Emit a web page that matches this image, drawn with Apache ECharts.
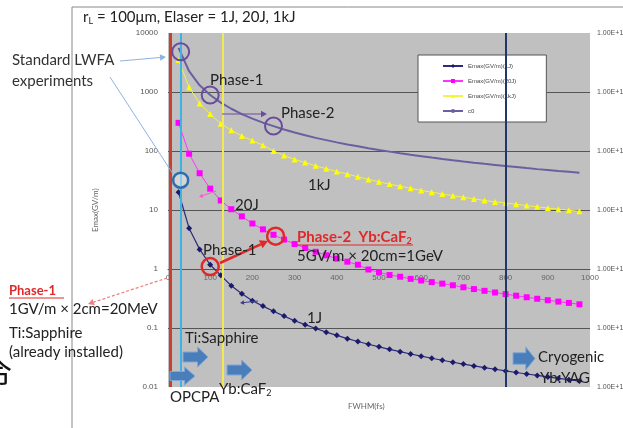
<!DOCTYPE html>
<html>
<head>
<meta charset="utf-8">
<script src="https://cdn.jsdelivr.net/npm/echarts@6/dist/echarts.min.js"></script>
<style>
  html, body { margin: 0; padding: 0; background: #fff; }
  #chart { width: 623px; height: 428px; }
</style>
</head>
<body>
<div id="chart"></div>
<script>
// pulse length (fs)
const fwhm = [25, 50, 75, 100, 125, 150, 175, 200, 225, 250, 275, 300, 325, 350, 375, 400, 425, 450, 475, 500,
  525, 550, 575, 600, 625, 650, 675, 700, 725, 750, 775, 800, 825, 850, 875, 900, 925, 950, 975];
// Emax (GV/m)
const emax1J = [20, 4.9, 2.15, 1.18, 0.78, 0.52, 0.38, 0.29, 0.235, 0.192, 0.159, 0.133, 0.114, 0.098, 0.085, 0.075,
  0.066, 0.059, 0.053, 0.048, 0.0435, 0.0397, 0.0363, 0.0333, 0.0307, 0.0284, 0.0263, 0.0245, 0.0228, 0.0213,
  0.02, 0.0187, 0.0176, 0.0166, 0.0157, 0.0148, 0.014, 0.0133, 0.0126];
const emax20J = [300, 90, 42, 23, 14.5, 10.3, 7.8, 5.9, 4.7, 3.8, 3.15, 2.65, 2.27, 1.96, 1.71, 1.5, 1.33, 1.18,
  0.98, 0.88, 0.79, 0.74, 0.68, 0.64, 0.6, 0.565, 0.53, 0.49, 0.457, 0.427, 0.4, 0.375, 0.353, 0.332, 0.313,
  0.296, 0.28, 0.266, 0.252];
const emax1kJ = [3500, 1200, 640, 425, 290, 225, 180, 150, 125, 100, 84, 72, 64, 56, 50, 45, 40.5, 36.5, 33, 30,
  27.5, 25.3, 23.3, 21.5, 20, 18.7, 17.5, 16.4, 15.4, 14.5, 13.7, 13.2, 12.5, 11.9, 11.3, 10.8, 10.3, 9.9, 9.5];
const c0 = [5600, 2250, 1300, 890, 660, 520, 422, 353, 302, 264, 231, 206, 185, 167, 153, 140, 129, 120, 111, 104,
  97.6, 91.7, 86.4, 81.7, 77.3, 73.4, 69.8, 66.5, 63.4, 60.6, 58.1, 55.6, 53.4, 51.3, 49.3, 47.5, 45.8, 44.3, 42.8];
const seriesNames = ['Emax(GV/m)(1J)', 'Emax(GV/m)(20J)', 'Emax(GV/m)(1kJ)', 'c0'];
// vertical markers (fs)
const markerLines = [5, 30, 130, 800];

const FONT = 'Lato, "Open Sans", sans-serif';
const chart = echarts.init(document.getElementById('chart'));

function pairs(vals) {
  return fwhm.map((t, i) => [t, vals[i]]);
}

chart.setOption({
  animation: false,
  backgroundColor: '#fff',
  grid: { left: 168, right: 33, top: 33, bottom: 41, show: true, backgroundColor: '#C0C0C0', borderWidth: 0,
    containLabel: false, outerBoundsMode: 'none' },
  legend: {
    data: seriesNames,
    orient: 'vertical',
    left: 418, top: 55,
    itemWidth: 20, itemHeight: 5, itemGap: 9,
    padding: [8, 30, 8, 24],
    backgroundColor: '#fff', borderColor: '#555', borderWidth: 1,
    textStyle: { fontSize: 6, color: '#444' },
    z: 1
  },
  xAxis: {
    type: 'value', min: 0, max: 1000, interval: 100,
    offset: -118,
    axisLine: { show: true, lineStyle: { color: '#555' } },
    axisTick: { show: false },
    axisLabel: { color: '#666', fontSize: 8, margin: 5, formatter: v => String(v) },
    splitLine: { show: false }
  },
  yAxis: [{
    type: 'log', min: 0.01, max: 10000, logBase: 10,
    axisLine: { show: false }, axisTick: { show: false },
    axisLabel: { color: '#555', fontSize: 8, margin: 10, formatter: v => String(+v.toPrecision(6)) },
    splitLine: { show: true, showMinLine: false, showMaxLine: false, lineStyle: { color: '#555', width: 1 } }
  }, {
    type: 'log', min: 1e10, max: 1e16, logBase: 10, position: 'right',
    axisLine: { show: false }, axisTick: { show: false }, splitLine: { show: false },
    axisLabel: { color: '#555', fontSize: 7, margin: 7, formatter: v => '1.00E+' + Math.round(Math.log10(v)) }
  }],
  series: [{
    name: seriesNames[0], type: 'line', data: pairs(emax1J), showAllSymbol: true,
    symbol: 'diamond', symbolSize: 6,
    itemStyle: { color: '#1B1B6B' }, lineStyle: { color: '#2B2B80', width: 1.2 }
  }, {
    name: seriesNames[1], type: 'line', data: pairs(emax20J), showAllSymbol: true,
    symbol: 'rect', symbolSize: 6,
    itemStyle: { color: '#FF00FF' }, lineStyle: { color: '#FF33FF', width: 1 }
  }, {
    name: seriesNames[2], type: 'line', data: pairs(emax1kJ), showAllSymbol: true,
    symbol: 'triangle', symbolSize: 6,
    itemStyle: { color: '#FFFF00' }, lineStyle: { color: '#F2F24A', width: 1 }
  }, {
    name: seriesNames[3], type: 'line', data: pairs(c0), symbol: 'none',
    itemStyle: { color: '#6A5FA0' }, lineStyle: { color: '#6A5FA0', width: 2 }
  }, {
    type: 'line', data: [], z: 1,
    markLine: {
      silent: true, symbol: 'none', label: { show: false },
      data: [
        { xAxis: markerLines[0], lineStyle: { color: '#C84030', width: 3, type: 'solid' } },
        { xAxis: markerLines[1], lineStyle: { color: '#3AB4E6', width: 2, type: 'solid' } },
        { xAxis: markerLines[2], lineStyle: { color: '#F2EA50', width: 2, type: 'solid' } },
        { xAxis: markerLines[3], lineStyle: { color: '#1F3868', width: 2, type: 'solid' } }
      ]
    }
  }]
});

function px(x, y) {
  return chart.convertToPixel({ xAxisIndex: 0, yAxisIndex: 0 }, [x, y]);
}
function txt(x, y, text, size, color, weight) {
  return { type: 'text', x: x, y: y, z: 100,
    style: { text: text, fill: color || '#222', font: (weight || 'normal') + ' ' + size + 'px ' + FONT, verticalAlign: 'top' } };
}
function subTxt(x, y, text, size, color, weight) {
  // text with {s|..} subscripts
  const f = (weight || 'normal') + ' ';
  return { type: 'text', x: x, y: y, z: 100,
    style: { text: text, verticalAlign: 'top',
      rich: {
        a: { font: f + size + 'px ' + FONT, fill: color, lineHeight: size + 3 },
        s: { font: f + Math.round(size * 0.6) + 'px ' + FONT, fill: color, lineHeight: Math.round(size * 0.7), verticalAlign: 'bottom' }
      } } };
}
function ring(c, r, color, w, fill) {
  return { type: 'circle', z: 100, shape: { cx: c[0], cy: c[1], r: r },
    style: { fill: fill || 'none', stroke: color, lineWidth: w } };
}
function seg(x1, y1, x2, y2, color, w, dash) {
  return { type: 'line', z: 100, shape: { x1: x1, y1: y1, x2: x2, y2: y2 },
    style: { stroke: color, lineWidth: w, lineDash: dash || null } };
}
function arrow(x1, y1, x2, y2, color, w, dash, head) {
  const a = Math.atan2(y2 - y1, x2 - x1), L = head || 6, W = L * 0.55;
  const bx = x2 - L * Math.cos(a), by = y2 - L * Math.sin(a);
  return [seg(x1, y1, bx, by, color, w, dash), { type: 'polygon', z: 100,
    shape: { points: [[x2, y2], [bx - W * Math.sin(a), by + W * Math.cos(a)], [bx + W * Math.sin(a), by - W * Math.cos(a)]] },
    style: { fill: color } }];
}
function block(x, y, w, h) {
  const hw = w * 0.42;
  return { type: 'polygon', z: 100,
    shape: { points: [[x, y + h * 0.25], [x + w - hw, y + h * 0.25], [x + w - hw, y], [x + w, y + h / 2],
      [x + w - hw, y + h], [x + w - hw, y + h * 0.75], [x, y + h * 0.75]] },
    style: { fill: '#4A7EBB', stroke: '#7EA6D8', lineWidth: 1 } };
}

const purple = '#6A4C9C', red = '#E02828', lblue = '#8DB3E2';
const g = [
  // frame
  seg(72, 7, 623, 7, '#888', 1), seg(72, 7, 72, 428, '#888', 1),
  // cut glyph at the left edge
  { type: 'text', x: -20, y: 356, z: 100, style: { text: '令', fill: '#111', font: '32px "Noto Sans CJK JP"', verticalAlign: 'top' } },
  subTxt(83, 8, '{a|r}{s|L}{a| = 100μm, Elaser = 1J, 20J, 1kJ}', 15, '#222'),
  txt(12, 53, 'Standard LWFA', 15, '#333'),
  txt(12, 74, 'experiments', 15, '#333'),
  ...arrow(120, 61, 166, 57, lblue, 1),
  seg(110, 77, 173, 174, lblue, 1),
  // rings
  ring(px(30, 4800), 8.5, purple, 2),
  ring(px(100, 890), 8.5, purple, 2),
  ring(px(250, 265), 8.5, purple, 2),
  ring(px(30, 32), 7.5, '#2E6EB0', 2.5, 'rgba(255,255,255,0.35)'),
  ring(px(100, 1.1), 8.5, red, 2.5),
  ring(px(255, 3.6), 8.5, red, 2.5),
  ...arrow(220, 263, 268, 241, red, 2.5, null, 8),
  ...arrow(222, 114, 267, 114, purple, 1.2),
  ...arrow(216, 191, 199, 197, '#FF55DD', 1, null, 4),
  ...arrow(258, 301, 240, 303, '#3B3B90', 1, null, 4),
  txt(210, 73, 'Phase-1', 15, '#222'),
  txt(281, 106, 'Phase-2', 15, '#222'),
  txt(308, 178, '1kJ', 15, '#222'),
  txt(235, 198, '20J', 15, '#222'),
  subTxt(297, 228, '{a|Phase-2  Yb:CaF}{s|2}', 15, red, 'bold'),
  seg(297, 245, 413, 245, red, 1.2),
  txt(297, 249, '5GV/m × 20cm=1GeV', 15, '#222'),
  txt(203, 243, 'Phase-1', 15, '#222'),
  txt(307, 311, '1J', 15, '#222'),
  // left notes
  txt(9, 284, 'Phase-1', 13, red, 'bold'),
  seg(9, 298, 64, 298, red, 1),
  ...arrow(167, 278, 88, 304, '#F08080', 1.3, [3, 2], 6),
  txt(9, 302, '1GV/m × 2cm=20MeV', 15, '#222'),
  txt(9, 326, 'Ti:Sapphire', 15, '#222'),
  txt(9, 345, '(already installed)', 15, '#222'),
  // laser technologies
  block(183, 347, 25, 20),
  block(170, 367, 25, 18),
  block(227, 360, 25, 20),
  block(513, 347, 22, 23),
  txt(185, 331, 'Ti:Sapphire', 15, '#222'),
  txt(170, 390, 'OPCPA', 15, '#222'),
  subTxt(219, 380, '{a|Yb:CaF}{s|2}', 15, '#222'),
  txt(538, 350, 'Cryogenic', 15, '#222'),
  txt(540, 371, 'Yb:YAG', 15, '#222'),
  // axis names
  txt(348, 402, 'FWHM(fs)', 8, '#666'),
  { type: 'text', x: 91, y: 232, rotation: Math.PI / 2, z: 100,
    style: { text: 'Emax(GV/m)', fill: '#666', font: '8px ' + FONT, verticalAlign: 'top' } }
];
chart.setOption({ graphic: g });
</script>
</body>
</html>
